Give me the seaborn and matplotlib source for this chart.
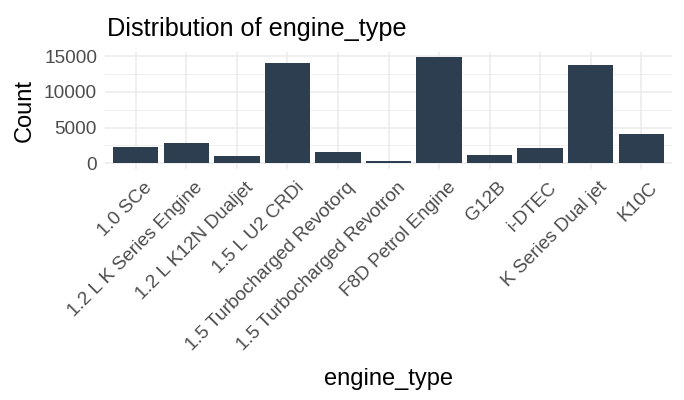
import matplotlib
matplotlib.use("Agg")
import matplotlib.pyplot as plt
import matplotlib.transforms as mtransforms
import seaborn as sns
import pandas as pd
from matplotlib.ticker import MultipleLocator

categories = ["1.0 SCe", "1.2 L K Series Engine", "1.2 L K12N Dualjet", "1.5 L U2 CRDi",
              "1.5 Turbocharged Revotorq", "1.5 Turbocharged Revotron", "F8D Petrol Engine",
              "G12B", "i-DTEC", "K Series Dual jet", "K10C"]
counts = [2276, 2833, 1022, 13978, 1579, 325, 14861, 1161, 2136, 13700, 4087]
y_ticks = [0, 5000, 10000, 15000]

sns.set_theme(style="white")
plt.rcParams['font.family'] = ['Liberation Sans', 'DejaVu Sans']

df = pd.DataFrame({"engine_type": categories, "Count": counts})

fig = plt.figure(figsize=(6.84, 4.0), dpi=100)
ax = fig.add_axes([0.1541, 0.5785, 0.9819 - 0.1541, 0.8708 - 0.5785])

sns.barplot(data=df, x="engine_type", y="Count", color="#2C3E50", saturation=1,
            width=0.9, ax=ax, zorder=3, linewidth=0, edgecolor="none")

ymax = max(counts)
ax.set_ylim(-0.05 * ymax, 1.05 * ymax)
ax.set_xlim(-0.6, len(categories) - 0.4)
ax.set_yticks(y_ticks)
ax.yaxis.set_minor_locator(MultipleLocator(2500))
ax.grid(True, which="major", color="#EBEBEB", linewidth=1.1, zorder=0)
ax.grid(True, which="minor", axis="y", color="#EBEBEB", linewidth=0.55, zorder=0)
ax.set_axisbelow(True)
for s in ax.spines.values():
    s.set_visible(False)
ax.tick_params(axis="both", which="both", length=0, labelsize=13.7, labelcolor="#4D4D4D")
ax.tick_params(axis="y", pad=6)
ax.tick_params(axis="x", pad=3)
offset = mtransforms.ScaledTranslation(8 / 100, -6 / 100, fig.dpi_scale_trans)
for lab in ax.get_xticklabels():
    lab.set_rotation(45)
    lab.set_ha("right")
    lab.set_rotation_mode("anchor")
    lab.set_transform(lab.get_transform() + offset)

ax.set_xlabel("engine_type", fontsize=17, color="black", labelpad=10)
ax.set_ylabel("Count", fontsize=17, color="black", labelpad=6)
ax.set_title("Distribution of engine_type", fontsize=18.2, loc="left", color="black", pad=11,
             x=0.002)

fig.savefig("out.png", dpi=100, facecolor="white")
